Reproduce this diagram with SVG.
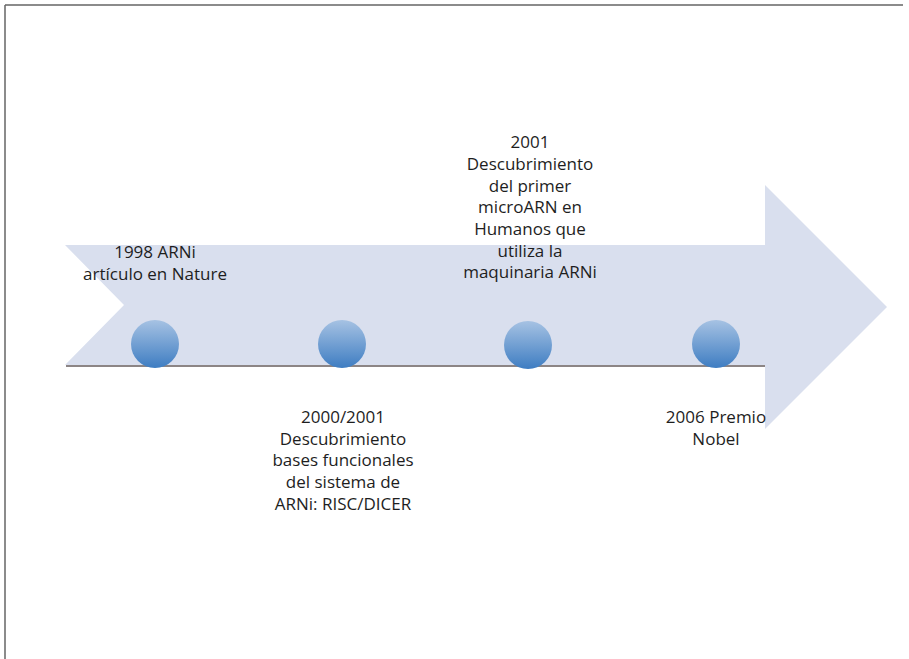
<svg xmlns="http://www.w3.org/2000/svg" width="909" height="659" viewBox="0 0 909 659">
<defs>
<linearGradient id="ball" x1="0" y1="0" x2="0" y2="1">
<stop offset="0" stop-color="#a6c2e3"/>
<stop offset="1" stop-color="#3e7dc2"/>
</linearGradient>
</defs>
<style>
.lbl{font-family:"Open Sans","Liberation Sans",sans-serif;font-size:17px;fill:#1e1e1e;text-anchor:middle}
.dot{fill:url(#ball)}
</style>
<rect x="0" y="0" width="909" height="659" fill="#fff"/>
<path d="M5 5 H903 M5 5 V659" stroke="#666" stroke-width="1.5" fill="none"/>
<g id="arrow">
<path d="M66 366 H766" stroke="#8c8585" stroke-width="2"/>
<polygon points="65,245 765,245 765,185 887,307 765,429 765,365 65,365 124,305" fill="#d9dfee"/>
</g>
<g id="connectors"></g>
<g id="n1">
<circle class="dot" cx="155" cy="344" r="24"/>
<text class="lbl" x="155" y="258">1998 ARNi</text>
<text class="lbl" x="155" y="280">artículo en Nature</text>
</g>
<g id="n2">
<circle class="dot" cx="342" cy="344" r="24"/>
<text class="lbl" x="343" y="423">2000/2001</text>
<text class="lbl" x="343" y="445">Descubrimiento</text>
<text class="lbl" x="343" y="466">bases funcionales</text>
<text class="lbl" x="343" y="488">del sistema de</text>
<text class="lbl" x="343" y="510">ARNi: RISC/DICER</text>
</g>
<g id="n3">
<circle class="dot" cx="528" cy="345" r="24"/>
<text class="lbl" x="530" y="148">2001</text>
<text class="lbl" x="530" y="170">Descubrimiento</text>
<text class="lbl" x="530" y="192">del primer</text>
<text class="lbl" x="530" y="213">microARN en</text>
<text class="lbl" x="530" y="235">Humanos que</text>
<text class="lbl" x="530" y="257">utiliza la</text>
<text class="lbl" x="530" y="278">maquinaria ARNi</text>
</g>
<g id="n4">
<circle class="dot" cx="716" cy="344" r="24"/>
<text class="lbl" x="716" y="423">2006 Premio</text>
<text class="lbl" x="716" y="445">Nobel</text>
</g>
</svg>
